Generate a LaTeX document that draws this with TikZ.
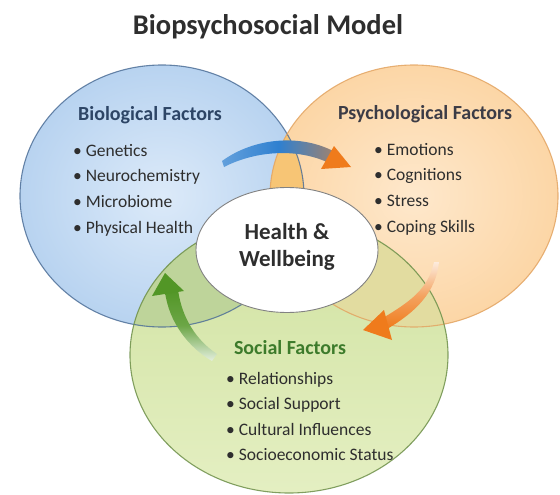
\documentclass[tikz,border=0pt]{standalone}
\usepackage{fontspec}
\setmainfont{Carlito}
\usepackage{tikz}
\usetikzlibrary{shapes.geometric}
\definecolor{bioin}{RGB}{220, 234, 249}
\definecolor{bioout}{RGB}{184, 211, 240}
\definecolor{bioedge}{RGB}{79, 112, 152}
\definecolor{psyin}{RGB}{254, 232, 204}
\definecolor{psyout}{RGB}{252, 214, 166}
\definecolor{psyedge}{RGB}{227, 165, 99}
\definecolor{soctop}{RGB}{208, 226, 160}
\definecolor{socbottom}{RGB}{228, 239, 194}
\definecolor{socedge}{RGB}{110, 144, 74}
\definecolor{biopsy}{RGB}{247, 197, 117}
\definecolor{biosoc}{RGB}{190, 212, 154}
\definecolor{psysoc}{RGB}{226, 220, 160}
\definecolor{hubedge}{RGB}{130, 130, 130}
\definecolor{flowblue}{RGB}{47, 128, 208}
\definecolor{flowtan}{RGB}{160, 130, 110}
\definecolor{floworange}{RGB}{239, 123, 28}
\definecolor{flowgreen}{RGB}{82, 150, 38}
\definecolor{biohead}{RGB}{45, 69, 102}
\definecolor{psyhead}{RGB}{60, 60, 70}
\definecolor{sochead}{RGB}{61, 123, 43}
\definecolor{ink}{RGB}{46, 46, 46}

\tikzset{
  title/.style={font=\bfseries\fontsize{28.5}{32}\selectfont, text=ink, anchor=base, inner sep=0pt},
  heading/.style={font=\bfseries\fontsize{20}{24}\selectfont, anchor=base, inner sep=0pt},
  item/.style={font=\fontsize{17.5}{21}\selectfont, text=ink, anchor=base west, inner sep=0pt},
  rim/.style={line width=1.1pt, draw opacity=0.85},
  hub/.style={ellipse, draw=hubedge, fill=white, line width=0.9pt,
              minimum width=182pt, minimum height=125pt, inner sep=0pt},
  hubtext/.style={font=\bfseries\fontsize{23}{27}\selectfont, text=ink, align=center, inner sep=0pt}
}

\begin{document}
\begin{tikzpicture}[x=1pt, y=-1pt]
  \useasboundingbox (0, 0) rectangle (560, 495);

  \coordinate (bio) at (162, 196);
  \coordinate (psy) at (414, 196);
  \coordinate (soc) at (289, 355);

  % the three factor circles
  \shade [inner color=bioin, outer color=bioout] (bio) ellipse (142pt and 131pt);
  \shade [inner color=psyin, outer color=psyout] (psy) ellipse (144pt and 131pt);
  \begin{scope}
    \clip (bio) ellipse (142pt and 131pt);
    \fill [color=biopsy] (psy) ellipse (144pt and 131pt);
  \end{scope}
  \shade [top color=soctop, bottom color=socbottom] (soc) ellipse (159pt and 138pt);

  % overlaps with the social circle
  \begin{scope}
    \clip (soc) ellipse (159pt and 138pt);
    \fill [color=biosoc] (bio) ellipse (142pt and 131pt);
    \fill [color=psysoc] (psy) ellipse (144pt and 131pt);
  \end{scope}

  \draw [rim, color=bioedge] (bio) ellipse (142pt and 131pt);
  \draw [rim, color=psyedge] (psy) ellipse (144pt and 131pt);
  \draw [rim, color=socedge] (soc) ellipse (159pt and 138pt);

  % centre
  \node [hub] (hub) at (287, 250) {};
  \node [hubtext] (hubtext) at (287, 247) {Health \&\\Wellbeing};

  % bio -> psy (middle colour last, or it gets reset)
  \shade [left color=flowblue!75, right color=flowtan, middle color=flowblue]
    (222, 161) .. controls (255, 137) and (302, 134) .. (335, 152)
    -- (331, 164) .. controls (300, 148) and (257, 150) .. (224, 167) -- cycle;
  \fill [color=floworange] (334, 146) -- (351, 167) -- (321, 169) -- cycle;

  % psy -> soc
  \shade [top color=floworange!15, bottom color=floworange, middle color=floworange!70]
    (439, 262) .. controls (436, 292) and (416, 312) .. (387, 329)
    -- (383, 318) .. controls (409, 302) and (428, 290) .. (434, 262) -- cycle;
  \fill [color=floworange] (363, 330) -- (384, 310) -- (392, 340) -- cycle;

  % soc -> bio
  \shade [top color=flowgreen, bottom color=flowgreen!15, middle color=flowgreen!85]
    (165, 292) .. controls (169, 322) and (188, 347) .. (212, 361)
    -- (217, 354) .. controls (196, 340) and (182, 318) .. (178, 290) -- cycle;
  \fill [color=flowgreen] (165, 273) -- (184, 291) -- (152, 296) -- cycle;

  % texts
  \node [title] (title) at (268, 35) {Biopsychosocial Model};

  \node [heading, text=biohead] (biotitle) at (150, 121) {Biological Factors};
  \foreach \txt [count=\i] in {Genetics, Neurochemistry, Microbiome, Physical Health} {
    \node [item] (bio\i) at (73, {156 + 25.7*(\i-1)}) {\textbullet~\txt};
  }

  \node [heading, text=psyhead] (psytitle) at (425, 119) {Psychological Factors};
  \foreach \txt [count=\i] in {Emotions, Cognitions, Stress, Coping Skills} {
    \node [item] (psy\i) at (374, {155 + 25.7*(\i-1)}) {\textbullet~\txt};
  }

  \node [heading, text=sochead] (soctitle) at (290, 354) {Social Factors};
  \foreach \txt [count=\i] in {Relationships, Social Support, Cultural Influences, Socioeconomic Status} {
    \node [item] (soc\i) at (226, {384 + 25.6*(\i-1)}) {\textbullet~\txt};
  }
\end{tikzpicture}
\end{document}
